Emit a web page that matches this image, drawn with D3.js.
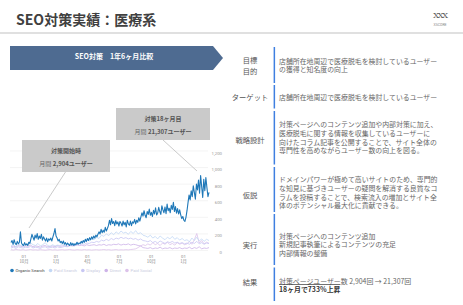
<!DOCTYPE html>
<html lang="ja">
<head>
<meta charset="UTF-8">
<title>SEO対策実績：医療系</title>
<script src="https://cdn.jsdelivr.net/npm/d3@7"></script>
<style>
  body { margin: 0; background: #fff; }
  svg { display: block; font-family: "Noto Sans CJK JP", "Noto Sans", sans-serif; }
</style>
</head>
<body>
<script>
  // ---- data ----
  const startDate = new Date(2021, 7, 25);
  const endDate = new Date(2023, 2, 15);

  // Organic Search, one value every 3 days
  const organic = [
    95, 120, 75, 130, 85, 70, 110, 80,
    100, 225, 90,
    70, 60, 95, 65, 80, 60, 100, 85,
    140, 195, 160, 125, 185, 150, 205, 135, 175, 145, 195, 125, 165, 140,
    115, 150, 105, 140, 125, 150, 115, 165,
    205, 265, 175,
    150, 115, 135, 95, 110, 85, 115, 75, 95, 65, 90, 75, 60, 95, 65, 85, 60, 80, 70, 100, 75, 90, 85,
    110, 90, 120, 100, 135, 110, 145, 120, 155, 130, 165, 140, 175, 150, 185, 165,
    195, 225, 200, 255, 215, 245, 220, 280, 235, 265,
    300, 365, 310, 385, 325, 350, 300, 360, 320, 345, 295, 350,
    330, 295, 355, 310, 340, 285, 365, 320, 305, 355, 300, 345, 330, 375, 320, 365, 340, 395, 355,
    405, 455, 415, 480, 425, 395, 470, 435, 500, 425, 460, 410, 485, 440, 515, 430,
    450, 520, 470, 435, 540, 490, 455, 525, 445, 560, 480, 510, 455, 545, 495, 580, 470, 530, 450, 505, 440, 490,
    430, 385, 410, 365, 350, 400, 480,
    580, 670, 610, 720, 650, 780, 700, 620, 800, 730, 850, 690, 905, 770, 640, 860, 720, 880, 760, 650, 700
  ];

  // other channels, one value every 7 days
  const paidSearch = [
    55, 70, 45, 80, 60, 50, 75, 65, 90, 70, 60, 85, 55, 70, 95, 60, 50, 70, 55, 65, 60, 75, 55, 80, 70, 90, 75, 100, 85, 110, 95, 125, 115, 140, 130,
    160, 145, 185, 170, 200, 180, 215, 190, 225, 200, 235, 210, 220, 195, 230, 205, 240, 200, 215, 185, 175,
    160, 185, 150, 170, 140, 175, 150, 130, 160, 140, 170, 135, 155, 125, 145, 120,
    130, 105, 150, 120, 160, 115, 140, 110, 135, 120
  ];
  const display = [
    30, 40, 25, 45, 35, 30, 40, 35, 50, 30, 40, 35, 25, 40, 45, 30, 35, 40, 30, 45, 35, 40, 50, 45, 55, 60, 55, 70, 65, 80, 75, 90, 85, 100, 95,
    110, 100, 125, 115, 135, 120, 145, 130, 150, 140, 160, 145, 155, 140, 150, 135, 145, 125, 140, 120, 115,
    105, 120, 95, 110, 90, 115, 100, 85, 105, 95, 110, 90, 100, 85, 95, 80,
    90, 75, 100, 85, 110, 80, 95, 75, 90, 85
  ];
  const direct = [
    45, 55, 40, 60, 50, 45, 55, 50, 65, 45, 55, 50, 40, 55, 60, 45, 50, 55, 45, 60, 50, 55, 60, 50, 65, 55, 60, 70, 60, 65, 55, 70, 60, 65, 70,
    60, 70, 65, 75, 60, 70, 65, 75, 70, 80, 65, 75, 70, 80, 65, 75, 70, 60, 55, 35, 30,
    25, 35, 20, 30, 25, 40, 20, 30, 25, 35, 20, 30, 25, 35, 20, 30,
    25, 40, 20, 35, 25, 45, 20, 30, 25, 35
  ];
  const paidSocial = [
    10, 5, 12, 8, 6, 10, 4, 8, 12, 6, 9, 5, 10, 7, 4, 8, 11, 6, 9, 5, 8, 10, 6, 9, 12, 7, 5, 10, 8, 6, 11, 7, 9, 5, 8,
    10, 6, 9, 12, 7, 10, 5, 8, 11, 6, 9, 7, 10, 8, 12, 15, 20, 35, 55, 70, 60,
    80, 65, 95, 70, 85, 60, 90, 75, 100, 70, 85, 65, 95, 75, 90, 70,
    80, 110, 75, 130, 205, 90, 120, 80, 100, 85
  ];

  const seriesNames = ["Organic Search", "Paid Search", "Display", "Direct", "Paid Social"];
  const seriesColors = ["#1f78b8", "#c3d8f5", "#c8c7f3", "#cdb3e8", "#dcc2ea"];

  const yTicks = [0, 200, 400, 600, 800, 1000, 1200];
  const xTickDates = [new Date(2021, 9, 1), new Date(2022, 0, 1), new Date(2022, 3, 1),
                      new Date(2022, 6, 1), new Date(2022, 9, 1), new Date(2023, 0, 1)];
  const xTickLabels = [["01", "10月"], ["01", "1月"], ["01", "4月"], ["01", "7月"], ["01", "10月"], ["01", "1月"]];

  const notes = [
    {title: "対策開始時", pre: "月間", value: "2,904ユーザー"},
    {title: "対策18ヶ月目", pre: "月間", value: "21,307ユーザー"}
  ];

  const rowLabels = [["目標", "目的"], ["ターゲット"], ["戦略設計"], ["仮説"], ["実行"], ["結果"]];
  const rowTexts = [
    ["店舗所在地周辺で医療脱毛を検討しているユーザー", "の獲得と知名度の向上"],
    ["店舗所在地周辺で医療脱毛を検討しているユーザー"],
    ["対策ページへのコンテンツ追加や内部対策に加え、", "医療脱毛に関する情報を収集しているユーザーに",
     "向けたコラム記事を公開することで、サイト全体の", "専門性を高めながらユーザー数の向上を図る。"],
    ["ドメインパワーが極めて高いサイトのため、専門的", "な知見に基づきユーザーの疑問を解消する良質なコ",
     "ラムを投稿することで、検索流入の増加とサイト全", "体のポテンシャル最大化に貢献できる。"],
    ["対策ページへのコンテンツ追加", "新規記事執筆によるコンテンツの充足", "内部情報の整備"],
    ["対策ページユーザー数 2,904回 → 21,307回", "18ヶ月で733%上昇"]
  ];

  // ---- drawing ----
  const width = 463, height = 305;
  const svg = d3.select("body").append("svg").attr("width", width).attr("height", height);

  // header
  svg.append("text").attr("x", 16).attr("y", 19).attr("dominant-baseline", "central")
    .attr("font-size", 14).attr("font-weight", "bold").attr("fill", "#404040")
    .text("SEO対策実績：医療系");
  svg.append("rect").attr("x", 0).attr("y", 32).attr("width", width).attr("height", 2).attr("fill", "#e0e0e0");
  svg.append("text").attr("x", 440).attr("y", 15.5).attr("text-anchor", "middle").attr("dominant-baseline", "central")
    .attr("font-family", "DejaVu Serif").attr("font-size", 8).attr("letter-spacing", -1.2).attr("fill", "#555")
    .text("XXX");
  svg.append("text").attr("x", 440).attr("y", 25).attr("text-anchor", "middle").attr("dominant-baseline", "central")
    .attr("font-family", "Roboto").attr("font-size", 3.5).attr("fill", "#888").text("XSCORE");

  // banner
  svg.append("polygon").attr("points", "10,46 213,46 223,58 213,70 10,70").attr("fill", "#4e6b91");
  svg.append("text").attr("x", 114).attr("y", 56).attr("text-anchor", "middle").attr("dominant-baseline", "central")
    .attr("font-size", 7).attr("font-weight", "bold").attr("fill", "#fff").attr("xml:space", "preserve")
    .text("SEO対策　1年6ヶ月比較");

  // chart
  const x = d3.scaleTime().domain([startDate, endDate]).range([11, 209]);
  const y = d3.scaleLinear().domain([0, 1200]).range([250.5, 151]);

  svg.append("g").selectAll("line").data(yTicks).join("line")
    .attr("x1", 10).attr("x2", 208).attr("y1", d => y(d)).attr("y2", d => y(d))
    .attr("stroke", "#ececec").attr("stroke-width", 0.6);
  svg.append("g").selectAll("text").data(yTicks).join("text")
    .attr("x", 222).attr("y", d => y(d) + 2).attr("text-anchor", "end").attr("dominant-baseline", "central")
    .attr("font-family", "Roboto").attr("font-size", 4.3).attr("fill", "#999")
    .text(d => d3.format(",")(d));

  const xt = svg.append("g").selectAll("g").data(xTickDates).join("g")
    .attr("transform", d => `translate(${x(d)},0)`);
  xt.append("text").attr("y", 256).attr("text-anchor", "middle").attr("dominant-baseline", "central")
    .attr("font-family", "Roboto").attr("font-size", 4.3).attr("fill", "#888")
    .text((d, i) => xTickLabels[i][0]);
  xt.append("text").attr("y", 260.5).attr("text-anchor", "middle").attr("dominant-baseline", "central")
    .attr("font-size", 4.3).attr("fill", "#888")
    .text((d, i) => xTickLabels[i][1]);

  const dayMs = 86400000;
  const toPoints = (vals, step) => vals.map((v, i) => ({date: new Date(startDate.getTime() + i * step * dayMs), v}));
  const line = d3.line().x(d => x(d.date)).y(d => y(d.v));
  const minor = [[paidSocial, 4], [direct, 3], [display, 2], [paidSearch, 1]];
  minor.forEach(([vals, ci]) => {
    svg.append("path").datum(toPoints(vals, 7)).attr("d", line)
      .attr("fill", "none").attr("stroke", seriesColors[ci]).attr("stroke-width", 0.8);
  });
  svg.append("path").datum(toPoints(organic, 3)).attr("d", line)
    .attr("fill", "none").attr("stroke", seriesColors[0]).attr("stroke-width", 1.1).attr("stroke-linejoin", "round");

  // legend
  let lx = 12;
  seriesNames.forEach((name, i) => {
    svg.append("circle").attr("cx", lx).attr("cy", 270.5).attr("r", 1.8).attr("fill", seriesColors[i]);
    const t = svg.append("text").attr("x", lx + 3.5).attr("y", 270.5).attr("dominant-baseline", "central")
      .attr("font-family", "Roboto").attr("font-size", 4.3)
      .attr("fill", i === 0 ? "#444" : "#c9cbe0").text(name);
    lx += 3.5 + t.node().getComputedTextLength() + 6;
  });

  // annotation boxes
  const boxes = [
    {x0: 22, y0: 140, w: 88, h: 32, lx1: 65.5, ly1: 172, lx2: 29, ly2: 228},
    {x0: 116, y0: 108, w: 94, h: 32, lx1: 163, ly1: 140, lx2: 197, ly2: 171}
  ];
  boxes.forEach((b, i) => {
    svg.append("line").attr("x1", b.lx1).attr("y1", b.ly1).attr("x2", b.lx2).attr("y2", b.ly2)
      .attr("stroke", "#c4c4c4").attr("stroke-width", 0.9);
    svg.append("rect").attr("x", b.x0).attr("y", b.y0).attr("width", b.w).attr("height", b.h).attr("fill", "#cacaca");
    const cx = b.x0 + b.w / 2;
    svg.append("text").attr("x", cx).attr("y", b.y0 + 10).attr("text-anchor", "middle").attr("dominant-baseline", "central")
      .attr("font-size", 6).attr("font-weight", "bold").attr("fill", "#555").text(notes[i].title);
    const t2 = svg.append("text").attr("x", cx).attr("y", b.y0 + 23).attr("text-anchor", "middle")
      .attr("dominant-baseline", "central").attr("font-size", 6).attr("fill", "#666");
    t2.append("tspan").text(notes[i].pre + "  ");
    t2.append("tspan").attr("font-weight", "bold").attr("fill", "#555").text(notes[i].value);
  });

  // right panel
  const rows = [
    {top: 47, bot: 83, labelY: [60, 70.7], textY: 60.7, gap: 8.6},
    {top: 85, bot: 108.5, labelY: [96.7], textY: 96.7, gap: 8.6},
    {top: 111, bot: 164.5, labelY: [140], textY: 124.3, gap: 8.6},
    {top: 167, bot: 212, labelY: [195], textY: 179.3, gap: 8.6},
    {top: 214, bot: 265, labelY: [245], textY: 235.5, gap: 8.6},
    {top: 267.5, bot: 301, labelY: [281.7], textY: 280.7, gap: 8.6}
  ];
  rows.forEach((r, i) => {
    svg.append("rect").attr("x", 273.6).attr("y", r.top).attr("width", 1.5).attr("height", r.bot - r.top).attr("fill", "#3f7fe0");
    rowLabels[i].forEach((s, j) => {
      svg.append("text").attr("x", 250).attr("y", r.labelY[j]).attr("text-anchor", "middle").attr("dominant-baseline", "central")
        .attr("font-size", 7.3).attr("fill", "#555").text(s);
    });
    rowTexts[i].forEach((s, j) => {
      const last = i === 5 && j === 1;
      svg.append("text").attr("x", 279).attr("y", r.textY + j * r.gap).attr("dominant-baseline", "central")
        .attr("font-size", 6.9).attr("fill", last ? "#333" : "#666")
        .attr("font-weight", last ? "bold" : null)
        .attr("text-decoration", last ? "underline" : null)
        .text(s);
    });
  });
</script>
</body>
</html>
